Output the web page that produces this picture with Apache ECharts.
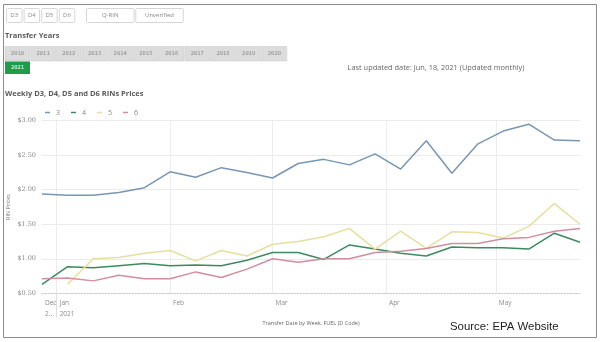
<!DOCTYPE html>
<html><head><meta charset="utf-8">
<script src="https://cdn.jsdelivr.net/npm/echarts@6/dist/echarts.min.js"></script>
<style>html,body{margin:0;padding:0;background:#fff}#c{width:600px;height:342px}</style>
</head><body><div id="c"></div>
<script>
const weeks = ['2020-12-28','2021-01-04','2021-01-11','2021-01-18','2021-01-25','2021-02-01','2021-02-08','2021-02-15','2021-02-22','2021-03-01','2021-03-08','2021-03-15','2021-03-22','2021-03-29','2021-04-05','2021-04-12','2021-04-19','2021-04-26','2021-05-03','2021-05-10','2021-05-17','2021-05-24'];
const d3 = [1.94,1.92,1.92,1.96,2.03,2.26,2.18,2.32,2.25,2.17,2.38,2.44,2.36,2.52,2.30,2.71,2.24,2.66,2.85,2.95,2.72,2.71];
const d4 = [0.63,0.885,0.87,0.90,0.93,0.90,0.91,0.90,0.98,1.09,1.09,0.99,1.20,1.14,1.08,1.04,1.17,1.16,1.16,1.14,1.37,1.24];
const d5 = [null,0.63,1.00,1.02,1.08,1.12,0.97,1.12,1.04,1.21,1.25,1.32,1.44,1.14,1.40,1.15,1.39,1.38,1.30,1.47,1.80,1.50];
const d6 = [0.71,0.72,0.68,0.76,0.71,0.71,0.81,0.73,0.85,1.00,0.95,1.00,1.00,1.09,1.11,1.15,1.22,1.22,1.29,1.31,1.40,1.44];
const seriesNames = ['3','4','5','6'];
const seriesColors = ['#7896b4','#3c8a60','#e6df9e','#d18e9e'];
const monthTicks = ['2020-12-28','2021-01-01','2021-02-01','2021-03-01','2021-04-01','2021-05-01'];
const monthLabels = ['Dec\n2...','Jan\n2021','Feb','Mar','Apr','May'];
const monthLines = ['2021-01-01','2021-02-01','2021-03-01','2021-04-01','2021-05-01'];
const fuelButtons = ['D3','D4','D5','D6'];
const filterButtons = ['Q-RIN','Unverified'];
const years = ['2010','2011','2012','2013','2014','2015','2016','2017','2018','2019','2020'];
const selectedYear = '2021';
const titleText = 'Weekly D3, D4, D5 and D6 RINs Prices';
const updatedText = 'Last updated date: Jun, 18, 2021 (Updated monthly)';
const sourceText = 'Source: EPA Website';

const ts = s => new Date(s + 'T00:00:00Z').getTime();
const FONT = 'Open Sans';

const chart = echarts.init(document.getElementById('c'), null, {renderer:'canvas'});

const graphics = [];
graphics.push({type:'rect', shape:{x:3.5,y:4.5,width:593,height:333}, style:{fill:'none', stroke:'#8c8c8c', lineWidth:1}, silent:true});
fuelButtons.forEach((t,i)=>{
  const x = 6 + i*17.6;
  graphics.push({type:'rect', shape:{x:x+0.5,y:8.5,width:15.5,height:14,r:1}, style:{fill:'#fff', stroke:'#d6d6d6'}});
  graphics.push({type:'text', x:x+8.2, y:15.5, style:{text:t, fill:'#888', font:'6px '+FONT, align:'center', verticalAlign:'middle'}});
});
filterButtons.forEach((t,i)=>{
  const x = 86 + i*49.3;
  graphics.push({type:'rect', shape:{x:x+0.5,y:8.5,width:47.5,height:14,r:1}, style:{fill:'#fff', stroke:'#d6d6d6'}});
  graphics.push({type:'text', x:x+24.2, y:15.5, style:{text:t, fill:'#888', font:'6px '+FONT, align:'center', verticalAlign:'middle'}});
});
graphics.push({type:'text', x:5, y:35.5, style:{text:'Transfer Years', fill:'#595959', font:'bold 7.5px '+FONT, verticalAlign:'middle'}});
years.forEach((t,i)=>{
  const x = 5 + i*25.7;
  graphics.push({type:'rect', shape:{x:x,y:46.5,width:24.8,height:14.5}, style:{fill:'#dcdcdc', stroke:'#cfcfcf', lineWidth:0.6}});
  graphics.push({type:'text', x:x+12.4, y:53.8, style:{text:t, fill:'#8a8a8a', font:'5.5px "DejaVu Sans Mono"', align:'center', verticalAlign:'middle'}});
});
graphics.push({type:'rect', shape:{x:5,y:61.5,width:25,height:12.5}, style:{fill:'#1f9c49'}});
graphics.push({type:'text', x:17.5, y:67.8, style:{text:selectedYear, fill:'#fff', font:'5.5px "DejaVu Sans Mono"', align:'center', verticalAlign:'middle'}});
graphics.push({type:'text', x:436, y:68, style:{text:updatedText, fill:'#666', font:'7.4px '+FONT, align:'center', verticalAlign:'middle'}});
graphics.push({type:'text', x:5, y:94, style:{text:titleText, fill:'#5a5a5a', font:'bold 7.5px '+FONT, verticalAlign:'middle'}});
graphics.push({type:'text', x:450, y:327, style:{text:sourceText, fill:'#222', font:'11.4px "Liberation Sans"', verticalAlign:'middle'}});

const dataSets = [d3,d4,d5,d6];
const series = seriesNames.map((n,i)=>({
  name:n, type:'line', showSymbol:false, symbol:'none', connectNulls:false,
  lineStyle:{width:1.5, color:seriesColors[i]}, itemStyle:{color:seriesColors[i]},
  data: weeks.map((w,k)=>[ts(w), dataSets[i][k]]),
  z: 3
}));
series[0].markLine = {
  silent:true, symbol:'none', label:{show:false},
  lineStyle:{color:'#ececec', type:'solid', width:1},
  data: monthLines.map(m=>({xAxis: ts(m)})),
  z: 1
};
const tickVals = monthTicks.map(ts);

chart.setOption({
  animation:false,
  textStyle:{fontFamily:FONT},
  graphic: graphics,
  legend:{
    data: seriesNames, left:45, top:109, icon:'rect', itemWidth:5, itemHeight:1.5, itemGap:11,
    padding:0, textStyle:{fontSize:7, color:'#888', padding:[0,0,0,1]}
  },
  grid:{left:42, right:20, top:120.7, bottom:48.7, containLabel:false, outerBoundsMode:'none'},
  xAxis:{
    type:'value', min: ts(weeks[0]), max: ts(weeks[weeks.length-1]), scale:true,
    name:'Transfer Date by Week, FUEL (D Code)', nameLocation:'middle', nameGap:27, nameMoveOverlap:false,
    nameTextStyle:{fontSize:5.5, color:'#666'},
    axisLine:{show:true, lineStyle:{color:'#c8c8c8', type:[1.5,1.5], width:1}},
    axisTick:{show:true, customValues:[tickVals[1]], length:24, lineStyle:{color:'#dedede'}},
    splitLine:{show:false},
    axisLabel:{
      customValues: tickVals, align:'left', margin:4, padding:[0,0,0,3],
      fontSize:6.5, color:'#8a8a8a', lineHeight:11, hideOverlap:false, showMinLabel:true, showMaxLabel:true,
      formatter: v => { const k = tickVals.indexOf(v); return k>=0 ? monthLabels[k] : ''; }
    }
  },
  yAxis:{
    type:'value', min:0.5, max:3, interval:0.5,
    name:'RIN Prices', nameLocation:'middle', nameGap:31, nameMoveOverlap:false, nameTextStyle:{fontSize:5.5, color:'#777'},
    axisLine:{show:false}, axisTick:{show:false},
    splitLine:{show:true, showMinLine:false, lineStyle:{color:'#ebebeb', width:1}},
    axisLabel:{fontSize:6.5, color:'#8a8a8a', margin:6, fontFamily:'DejaVu Serif', formatter: v => '$' + v.toFixed(2)}
  },
  series: series
});
</script></body></html>
